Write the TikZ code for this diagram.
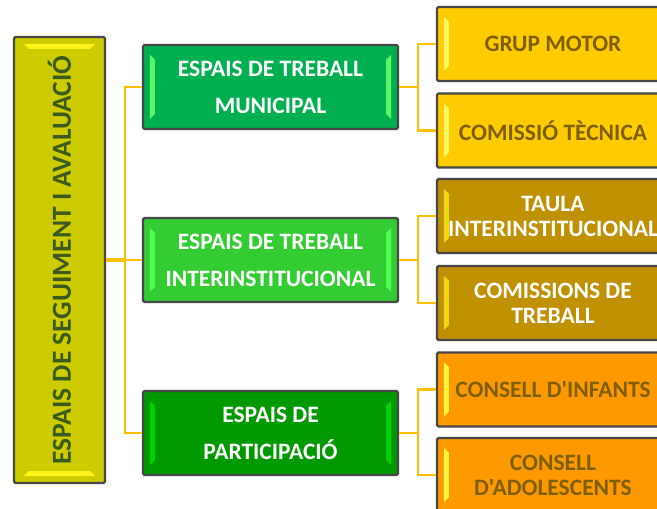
\documentclass[tikz,border=0pt]{standalone}
\usepackage{fontspec}
\setmainfont{Carlito}[Ligatures=TeXOff]
\usetikzlibrary{calc}
\definecolor{mainfill}{HTML}{CCCC00}
\definecolor{maintext}{HTML}{3B5A1E}
\definecolor{gA}{HTML}{00B050}
\definecolor{gB}{HTML}{33CC33}
\definecolor{gC}{HTML}{009900}
\definecolor{yA}{HTML}{FFCC00}
\definecolor{bA}{HTML}{BF9000}
\definecolor{oA}{HTML}{FF9900}
\definecolor{dtext}{HTML}{7F6000}
\definecolor{edge}{HTML}{474747}
\definecolor{conncol}{HTML}{FFC000}
\tikzset{
  boxbase/.style={draw=edge, line width=2.4pt, rounded corners=1.5pt, inner sep=0pt, align=center, font=\bfseries},
  mainbox/.style={boxbase, fill=mainfill, minimum width=91pt, minimum height=446pt},
  midbox/.style={boxbase, minimum width=255pt, minimum height=84pt, text=white, font=\bfseries\fontsize{23.5}{37}\selectfont},
  rbox/.style={boxbase, minimum width=232pt, minimum height=74pt, font=\bfseries\fontsize{23.5}{25}\selectfont},
  conn/.style={draw=conncol, line width=2.4pt},
  connthick/.style={draw=conncol, line width=4pt}
}
% vertical bevel strips at left and right inside a box
\newcommand\vbevel[2]{%
  \fill[#2] ($(#1.north west)+(8,-11)$) -- ($(#1.north west)+(13,-16)$) -- ($(#1.south west)+(13,16)$) -- ($(#1.south west)+(8,11)$) -- cycle;
  \fill[#2] ($(#1.north east)+(-8,-11)$) -- ($(#1.north east)+(-13,-16)$) -- ($(#1.south east)+(-13,16)$) -- ($(#1.south east)+(-8,11)$) -- cycle;
}
\begin{document}
\begin{tikzpicture}[x=1pt,y=1pt]
\clip (0,0) rectangle (657,509);
\fill[white] (0,0) rectangle (657,509);
% main box
\node[mainbox] (main) at (59.5,249) {};
\node[rotate=90, text=maintext, font=\bfseries\fontsize{27.5}{30}\selectfont] (maintxt) at (main.center) {ESPAIS DE SEGUIMENT I AVALUACIÓ};
\fill[yellow!90!white] ($(main.north west)+(11,-8)$) -- ($(main.north east)+(-11,-8)$) -- ($(main.north east)+(-16,-13)$) -- ($(main.north west)+(16,-13)$) -- cycle;
\fill[yellow!90!white] ($(main.south west)+(11,8)$) -- ($(main.south east)+(-11,8)$) -- ($(main.south east)+(-16,13)$) -- ($(main.south west)+(16,13)$) -- cycle;
% middle boxes
\node[midbox, fill=gA] (g1) at (270.5,422) {ESPAIS DE TREBALL\\MUNICIPAL};
\node[midbox, fill=gB] (g2) at (270.5,249) {ESPAIS DE TREBALL\\INTERINSTITUCIONAL};
\node[midbox, fill=gC] (g3) at (270.5,76) {ESPAIS DE\\PARTICIPACIÓ};
\vbevel{g1}{green!60!white!90!gA}
\vbevel{g2}{green!70!white}
\vbevel{g3}{green!55!gC}
% right boxes
\node[rbox, fill=yA, text=dtext] (r1) at (553,465) {GRUP MOTOR};
\node[rbox, fill=yA, text=dtext] (r2) at (553,378.5) {COMISSIÓ TÈCNICA};
\node[rbox, fill=bA, text=white] (r3) at (553,293) {TAULA\\INTERINSTITUCIONAL};
\node[rbox, fill=bA, text=white] (r4) at (553,206) {COMISSIONS DE\\TREBALL};
\node[rbox, fill=oA, text=dtext] (r5) at (553,119.5) {CONSELL D'INFANTS};
\node[rbox, fill=oA, text=dtext] (r6) at (553,34) {CONSELL\\D'ADOLESCENTS};
\vbevel{r1}{yellow!60!white}
\vbevel{r2}{yellow!60!white}
\vbevel{r3}{yellow!70!bA}
\vbevel{r4}{yellow!70!bA}
\vbevel{r5}{yellow!75!white}
\vbevel{r6}{yellow!75!white}
% connectors
\coordinate (t0) at (125,249);
\coordinate (t1) at (418,249);
\draw[connthick] (main.east) -- (t0);
\draw[conn] (g1.west) -- (g1.west -| t0) -- (g3.west -| t0) -- (g3.west);
\draw[conn] (g2.west) -- (t0);
\draw[conn] (g1.east) -- (g1.east -| t1);
\draw[conn] (r1.west) -- (r1.west -| t1) -- (r2.west -| t1) -- (r2.west);
\draw[conn] (g2.east) -- (g2.east -| t1);
\draw[conn] (r3.west) -- (r3.west -| t1) -- (r4.west -| t1) -- (r4.west);
\draw[conn] (g3.east) -- (g3.east -| t1);
\draw[conn] (r5.west) -- (r5.west -| t1) -- (r6.west -| t1) -- (r6.west);
\end{tikzpicture}
\end{document}
